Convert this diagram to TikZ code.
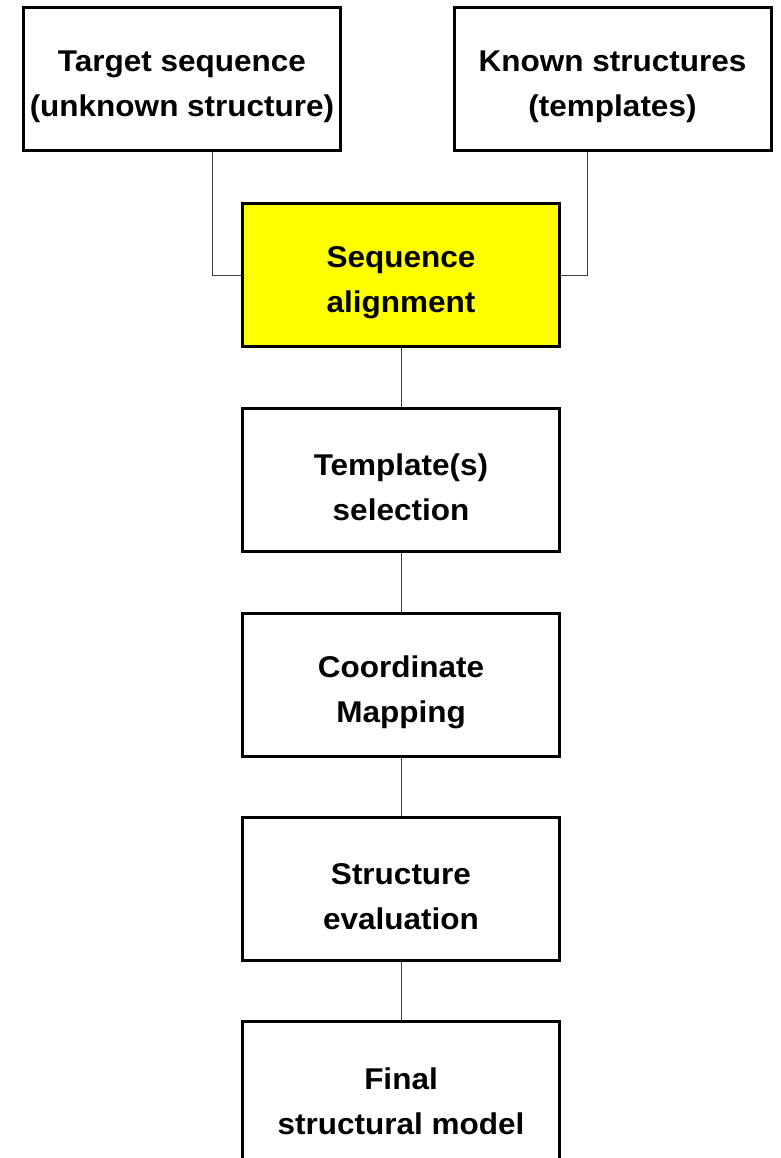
\documentclass[tikz,border=0pt]{standalone}
\usepackage{fontspec}
\setmainfont[FakeStretch=1.05]{Liberation Sans}
\begin{document}
\begin{tikzpicture}[x=1pt,y=-1pt,
  box/.style={draw=black,line width=3pt,rectangle,minimum width=317pt,minimum height=143pt,inner sep=0pt},
  lbl/.style={align=center,font=\fontsize{30pt}{45pt}\selectfont\bfseries,inner sep=0pt},
  link/.style={draw=black!75,line width=1pt}]
\useasboundingbox (0,0) rectangle (780,1158);
\node[box] (T) at (182,79) {};
\node[box] (K) at (612.5,79) {};
\node[box,fill={rgb,255:red,255;green,255;blue,0}] (S) at (401,275) {};
\node[box] (P) at (401,479.5) {};
\node[box] (C) at (401,684.5) {};
\node[box] (E) at (401,888.5) {};
\node[box] (F) at (401,1093) {};
\node[lbl] (Tt) at ([yshift=-8pt]T.center) {Target sequence\\(unknown structure)};
\node[lbl] (Kt) at ([yshift=-8pt]K.center) {Known structures\\(templates)};
\node[lbl] (St) at ([yshift=-8pt]S.center) {Sequence\\alignment};
\node[lbl] (Pt) at ([yshift=-8pt]P.center) {Template(s)\\selection};
\node[lbl] (Ct) at ([yshift=-8pt]C.center) {Coordinate\\Mapping};
\node[lbl] (Et) at ([yshift=-8pt]E.center) {Structure\\evaluation};
\node[lbl] (Ft) at ([yshift=-8pt]F.center) {Final\\structural model};
\draw[link] ([xshift=30pt]T.south) |- (S.west);
\draw[link] ([xshift=-25.5pt]K.south) |- (S.east);
\draw[link] (S.south) -- (P.north);
\draw[link] (P.south) -- (C.north);
\draw[link] (C.south) -- (E.north);
\draw[link] (E.south) -- (F.north);
\end{tikzpicture}
\end{document}
